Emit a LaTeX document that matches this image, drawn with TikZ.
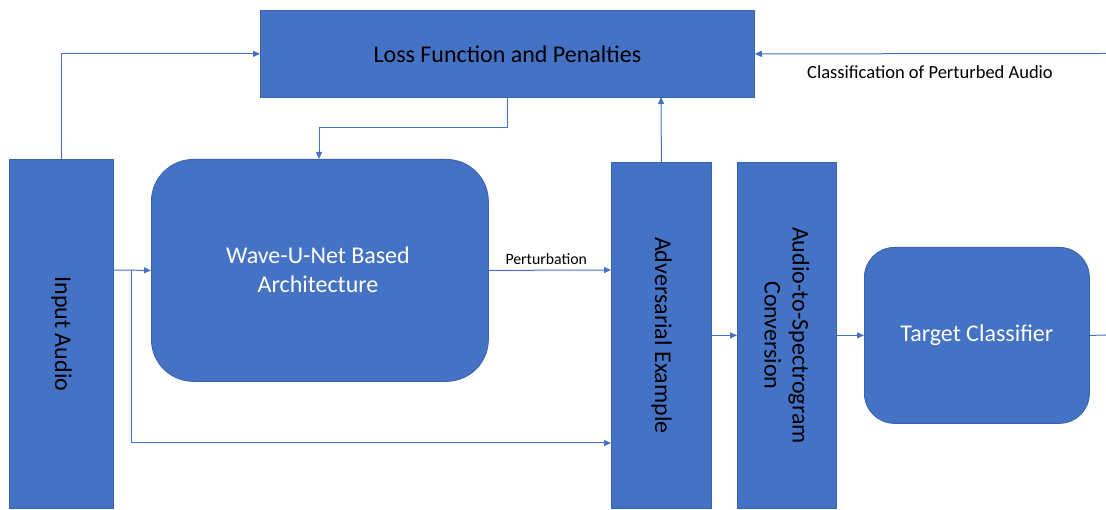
\documentclass[tikz,border=0pt]{standalone}
\usepackage{fontspec}
\setmainfont{Carlito}
\usetikzlibrary{arrows.meta}
\definecolor{boxblue}{HTML}{4472C4}
\definecolor{boxedge}{HTML}{3A63AE}
\tikzset{
  blk/.style={draw=boxedge, line width=0.8pt, fill=boxblue, inner sep=0pt, anchor=north west},
  conn/.style={draw=boxblue, line width=1pt, -{Triangle[length=7pt,width=6pt]}},
  plain/.style={draw=boxblue, line width=1pt},
  lbl/.style={font=\fontsize{24}{28}\selectfont, text=black},
  wlbl/.style={font=\fontsize{24}{29}\selectfont, text=white, align=center},
}
\begin{document}
\begin{tikzpicture}[x=1pt,y=-1pt]
\useasboundingbox (0,0) rectangle (1106,510);
% boxes
\node[blk, minimum width=494pt, minimum height=87pt] (loss) at (260,10) {};
\node[lbl] at (loss.center) {Loss Function and Penalties};
\node[blk, minimum width=104pt, minimum height=349pt] (in) at (9,159) {};
\node[lbl, rotate=-90] at (in.center) {Input Audio};
\node[blk, rounded corners=42pt, minimum width=337pt, minimum height=222pt] (wave) at (151,159) {};
\node[wlbl] at (318,270) {Wave-U-Net Based\\Architecture};
\node[blk, minimum width=100pt, minimum height=346pt] (adv) at (611,162) {};
\node[lbl, rotate=-90] at (adv.center) {Adversarial Example};
\node[blk, minimum width=99pt, minimum height=346pt] (spec) at (737,162) {};
\node[lbl, rotate=-90, align=center] at (spec.center) {Audio-to-Spectrogram\\Conversion};
\node[blk, rounded corners=30pt, minimum width=225pt, minimum height=176pt] (tgt) at (864,247) {};
\node[wlbl] at (tgt.center) {Target Classifier};
% coordinates
\coordinate (rightend) at (1106,53.5);
\coordinate (tgtout) at (1106,335);
\coordinate (split) at (131,270);
% connectors
\draw[conn] (in.north) |- (loss.west);
\draw[conn] (loss.south) -- ++(0,30) -| (319,159);
\draw[conn] (adv.north) -- (661,97);
\draw[conn] (rightend) -- (loss.east);
\node[font=\fontsize{18.5}{22}\selectfont] at (930,72) {Classification of Perturbed Audio};
\draw[conn] (113,270) -- (wave.west);
\draw[conn] (split) |- (611,443);
\draw[conn] (wave.east) -- (611,270) node[pos=0.47, above=2pt, font=\fontsize{15.8}{18}\selectfont] {Perturbation};
\draw[conn] (adv.east) -- (spec.west);
\draw[conn] (spec.east) -- (tgt.west);
\draw[plain] (tgt.east) -- (tgtout);
\end{tikzpicture}
\end{document}
